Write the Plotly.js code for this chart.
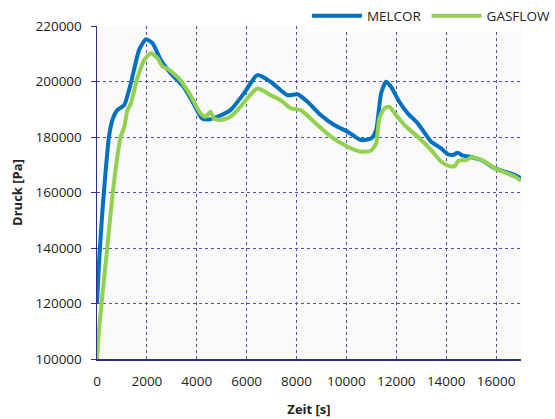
<!DOCTYPE html>
<html>
<head>
<meta charset="utf-8">
<script src="https://cdn.plot.ly/plotly-3.0.1.min.js"></script>
<style>html,body{margin:0;padding:0;background:#fff;}#chart{width:555px;height:419px;}</style>
</head>
<body>
<div id="chart"></div>
<script>
const melcorT = [0, 80, 210, 350, 480, 615, 815, 1090, 1355, 1690, 1960, 2225, 2560, 2950, 3470, 3870, 4210, 4480, 4820, 5350, 5890, 6430, 6960, 7630, 8040, 8440, 8970, 9510, 10050, 10580, 10990, 11190, 11390, 11590, 11790, 12120, 12460, 12860, 13400, 13800, 14070, 14270, 14450, 14680, 14940, 15410, 15950, 16760, 17000];
const melcorP = [120000, 134500, 152500, 168100, 180100, 186100, 189700, 191500, 199300, 211400, 215200, 213800, 207700, 203000, 198100, 192100, 186700, 186300, 187300, 189700, 195700, 202300, 199900, 195100, 195400, 192700, 187900, 184300, 181900, 178900, 179500, 182500, 195700, 199900, 198100, 192700, 188500, 184900, 178300, 175900, 173800, 173500, 174300, 173300, 172900, 171700, 168700, 166300, 165100];

const gasflowT = [0, 80, 210, 415, 615, 815, 950, 1090, 1220, 1355, 1620, 1890, 2160, 2425, 2630, 2870, 3340, 3740, 4150, 4350, 4550, 4680, 4950, 5350, 5750, 6430, 6960, 7360, 7770, 8170, 8700, 9380, 10050, 10580, 10990, 11190, 11320, 11520, 11720, 11990, 12330, 12860, 13400, 13800, 14140, 14340, 14500, 14810, 15010, 15480, 15950, 16760, 17000];
const gasflowP = [100000, 110500, 122400, 140500, 158500, 172900, 180100, 183500, 189700, 192100, 201200, 207700, 210200, 208400, 205400, 204400, 200500, 195100, 188500, 187300, 189100, 186700, 186100, 187300, 190900, 197500, 195100, 193300, 190300, 189700, 185500, 180100, 176500, 174700, 175100, 177700, 186700, 190300, 190900, 187900, 184300, 180100, 175300, 171100, 169500, 169500, 171500, 171700, 172700, 171500, 168700, 165700, 164300];

const xTicks = [0, 2000, 4000, 6000, 8000, 10000, 12000, 14000, 16000];
const yTicks = [100000, 120000, 140000, 160000, 180000, 200000, 220000];

const font = "Open Sans, Noto Sans, sans-serif";
const navy = "#2e2e8c";

const traces = [
  {x: melcorT, y: melcorP, name: "MELCOR", mode: "lines",
   line: {color: "#0070C0", width: 4, shape: "spline", smoothing: 0.6}},
  {x: gasflowT, y: gasflowP, name: "GASFLOW", mode: "lines",
   line: {color: "#92D050", width: 4, shape: "spline", smoothing: 0.6}}
];

const layout = {
  width: 555, height: 419,
  margin: {l: 97, r: 34, t: 26, b: 60, pad: 0, autoexpand: false},
  paper_bgcolor: "#ffffff",
  plot_bgcolor: "#f9f9f9",
  font: {family: font, size: 13, color: "#222"},
  showlegend: true,
  legend: {orientation: "h", x: 1.08, xanchor: "right", y: 1.03, yanchor: "middle",
           bgcolor: "#ffffff", font: {size: 13.5, color: "#222"}, itemwidth: 50, traceorder: "normal"},
  xaxis: {range: [0, 17000], tickvals: xTicks, ticktext: xTicks.map(String),
          showgrid: true, gridcolor: "#5050a8", griddash: "dot", gridwidth: 1,
          showline: true, linecolor: navy, linewidth: 1.5, ticks: "", zeroline: false,
          tickfont: {size: 13.5}, ticklabelstandoff: 9,
          title: {text: "<b>Zeit [s]</b>", font: {size: 13}, standoff: 16}},
  yaxis: {range: [100000, 220000], tickvals: yTicks, ticktext: yTicks.map(String),
          showgrid: true, gridcolor: "#5050a8", griddash: "dot", gridwidth: 1,
          showline: true, linecolor: navy, linewidth: 1.5, ticks: "outside", ticklen: 5,
          tickcolor: navy, zeroline: false, tickfont: {size: 13.5}, ticklabelstandoff: 6,
          title: {text: "<b>Druck [Pa]</b>", font: {size: 13}, standoff: 10}}
};

Plotly.newPlot("chart", traces, layout, {displayModeBar: false, staticPlot: true});
</script>
</body>
</html>
